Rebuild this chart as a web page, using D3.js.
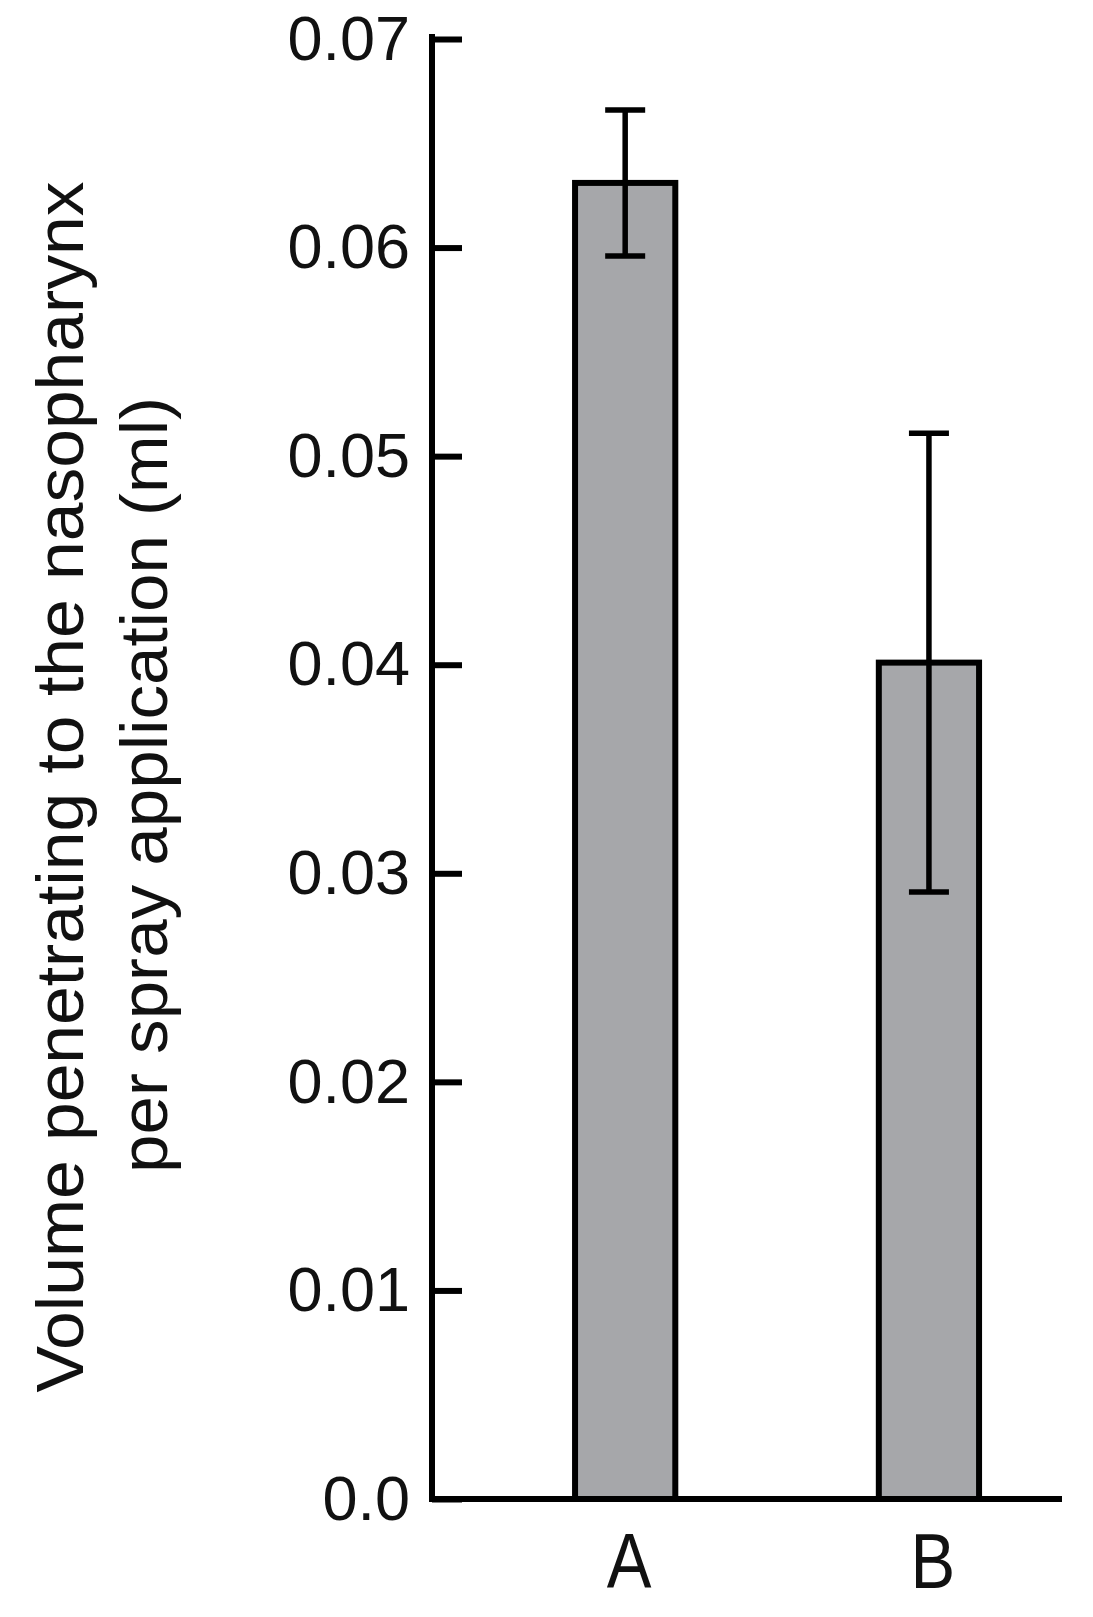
<!DOCTYPE html>
<meta charset="utf-8">
<style>
body { margin: 0; background: #fff; font-family: "Liberation Sans", Arial, sans-serif; }
text { fill: #111; }
</style>
<body>
<svg id="chart" width="1093" height="1617"></svg>

<script src="https://d3js.org/d3.v7.min.js"></script>
<script>

// data
var groups = ["A", "B"];
var means = [0.0631, 0.0401];
var errors = [0.0035, 0.0110];
var yTicks = [0, 0.01, 0.02, 0.03, 0.04, 0.05, 0.06, 0.07];
var titleLines = ["Volume penetrating to the nasopharynx", "per spray application (ml)"];

var bars = groups.map(function(g, i) {
    return {name: g, value: means[i], err: errors[i]};
});

var svg = d3.select("#chart"),
    x0 = 432, x1 = 1062,
    yBottom = 1499, yTop = 39;

var x = d3.scaleBand()
    .domain(groups)
    .range([x0, x1])
    .paddingInner(0.67)
    .paddingOuter(0.372)
    .align(0.633);

var y = d3.scaleLinear()
    .domain([0, 0.07])
    .range([yBottom, yTop]);

// bars
svg.selectAll("rect.bar")
    .data(bars)
  .enter().append("rect")
    .attr("class", "bar")
    .attr("x", function(d) { return x(d.name); })
    .attr("y", function(d) { return y(d.value); })
    .attr("width", x.bandwidth())
    .attr("height", function(d) { return y(0) - y(d.value); })
    .attr("fill", "#a6a7aa")
    .attr("stroke", "#000")
    .attr("stroke-width", 6);

// error bars
var eb = svg.selectAll("g.err")
    .data(bars)
  .enter().append("g")
    .attr("class", "err")
    .attr("stroke", "#000")
    .attr("stroke-width", 5.5);

eb.append("line")
    .attr("x1", function(d) { return x(d.name) + x.bandwidth() / 2; })
    .attr("x2", function(d) { return x(d.name) + x.bandwidth() / 2; })
    .attr("y1", function(d) { return y(d.value + d.err); })
    .attr("y2", function(d) { return y(d.value - d.err); });

[1, -1].forEach(function(s) {
    eb.append("line")
        .attr("x1", function(d) { return x(d.name) + x.bandwidth() / 2 - 20; })
        .attr("x2", function(d) { return x(d.name) + x.bandwidth() / 2 + 20; })
        .attr("y1", function(d) { return y(d.value + s * d.err); })
        .attr("y2", function(d) { return y(d.value + s * d.err); });
});

// y axis, ticks point inward
var yAxis = svg.append("g")
    .attr("transform", "translate(" + x0 + ",0)")
    .call(d3.axisLeft(y)
        .tickValues(yTicks)
        .tickSize(-30)
        .tickSizeOuter(0)
        .tickPadding(22)
        .tickFormat(function(d) { return d === 0 ? "0.0" : d3.format(".2f")(d); }));

yAxis.select(".domain").remove();
yAxis.selectAll(".tick line").attr("stroke", "#000").attr("stroke-width", 6);
yAxis.selectAll(".tick text")
    .attr("font-family", "'Liberation Sans', Arial, sans-serif")
    .attr("font-size", 63)
    .attr("fill", "#111");

svg.append("line")
    .attr("x1", x0).attr("x2", x0)
    .attr("y1", yTop - 5).attr("y2", yBottom)
    .attr("stroke", "#000").attr("stroke-width", 6);

// x axis
var xAxis = svg.append("g")
    .attr("transform", "translate(0," + yBottom + ")")
    .call(d3.axisBottom(x).tickSize(0).tickSizeOuter(0));

xAxis.select(".domain").remove();
xAxis.selectAll(".tick text")
    .attr("font-family", "'Liberation Sans', Arial, sans-serif")
    .attr("font-size", 67)
    .attr("fill", "#111")
    .attr("dy", 0)
    .attr("x", 4)
    .attr("y", 89 / 1.16)
    .attr("transform", "scale(1,1.16)");

svg.append("line")
    .attr("x1", x0 - 3).attr("x2", x1)
    .attr("y1", yBottom).attr("y2", yBottom)
    .attr("stroke", "#000").attr("stroke-width", 6);

// axis title, two lines
var titlePos = [{bx: 83, cy: 787, len: 1211}, {bx: 167, cy: 785, len: 776}];
svg.selectAll("text.title")
    .data(titleLines)
  .enter().append("text")
    .attr("class", "title")
    .attr("transform", function(d, i) { return "translate(" + titlePos[i].bx + "," + titlePos[i].cy + ") rotate(-90)"; })
    .attr("text-anchor", "middle")
    .attr("font-size", 66)
    .attr("textLength", function(d, i) { return titlePos[i].len; })
    .attr("lengthAdjust", "spacingAndGlyphs")
    .text(function(d) { return d; });

</script>
</body>
